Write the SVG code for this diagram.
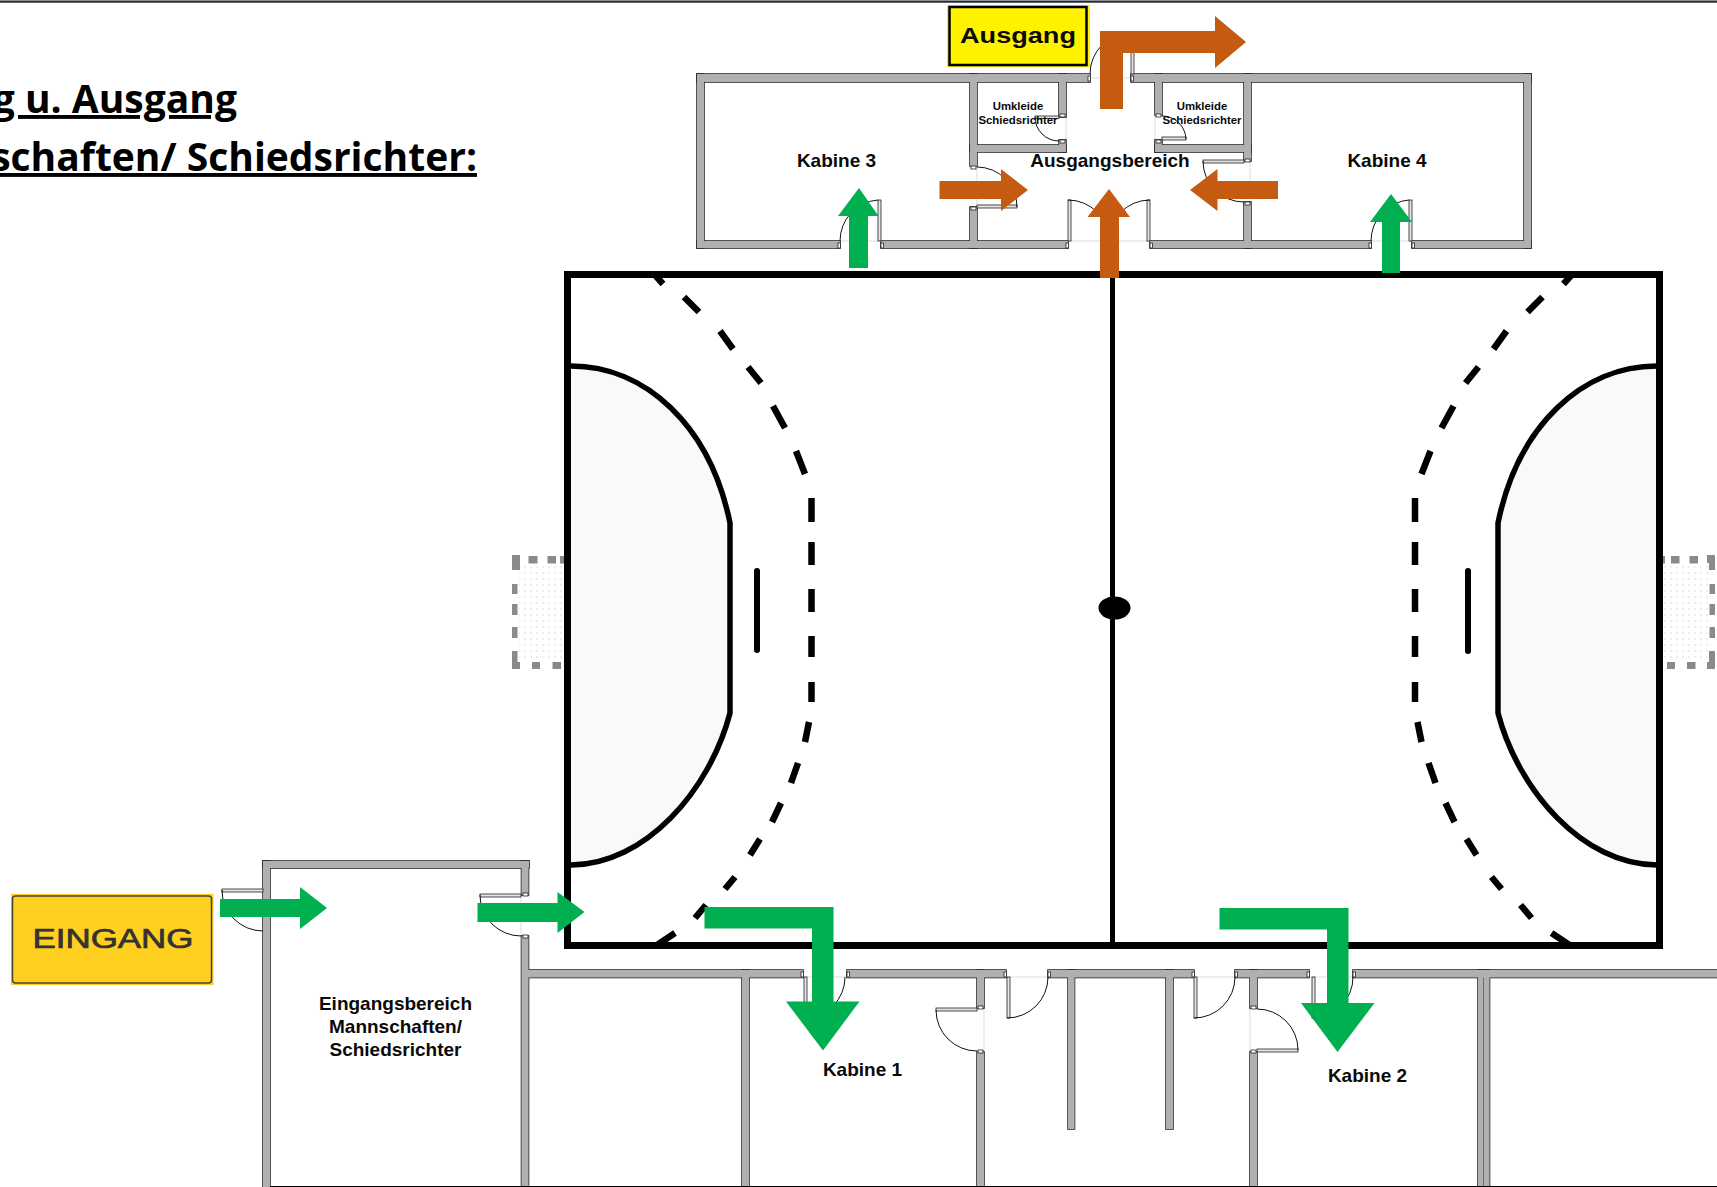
<svg xmlns="http://www.w3.org/2000/svg" xmlns:xlink="http://www.w3.org/1999/xlink" width="1717" height="1187" viewBox="0 0 1717 1187">
<style>
text{font-family:"Liberation Sans",Arial,sans-serif;font-weight:700;fill:#0a0a0a;text-anchor:middle}
.lbl{font-size:19px}
.sm{font-size:11.4px}
.title{font-family:"Open Sans","Noto Sans",sans-serif;font-size:39px;fill:#000;text-anchor:end}
.gn{fill:#00b050}
.or{fill:#c55a11}
.court{fill:none;stroke:#000;stroke-width:7}
.arc{fill:#f9f9f9;stroke:#000;stroke-width:5.5}
.dash{stroke:#000;stroke-width:6.5;fill:none}
.net{fill:#8a8a8a}
.door{fill:none;stroke:#111;stroke-width:1}
.leaf{fill:#e4e4e4;stroke:#222;stroke-width:.8}
.sill{stroke:#ddd;stroke-width:1}
.jamb{fill:#fff;stroke:#222;stroke-width:.8}
</style>
<defs>
<pattern id="mesh" width="6" height="6" patternUnits="userSpaceOnUse"><rect x="2" y="2" width="2" height="2" fill="#eeeeee"/></pattern>
<g id="walls">
<rect x="697" y="74" width="393" height="8"/><rect x="1131" y="74" width="400" height="8"/>
<rect x="697" y="241" width="143" height="7"/><rect x="881" y="241" width="187" height="7"/><rect x="1150" y="241" width="221" height="7"/><rect x="1412" y="241" width="119" height="7"/>
<rect x="697" y="74" width="7" height="174"/><rect x="1524" y="74" width="7" height="174"/>
<rect x="970" y="74" width="7" height="92"/><rect x="970" y="145" width="96" height="7"/><rect x="1059" y="74" width="7" height="43"/><rect x="1059" y="140" width="7" height="12"/>
<rect x="970" y="207" width="7" height="41"/>
<rect x="1244" y="74" width="7" height="87"/><rect x="1155" y="145" width="96" height="7"/><rect x="1155" y="74" width="7" height="41"/><rect x="1155" y="140" width="7" height="12"/>
<rect x="1244" y="202" width="7" height="46"/>
<rect x="263" y="861" width="7" height="326"/><rect x="263" y="861" width="266" height="7"/><rect x="521.500" y="861" width="7" height="34"/><rect x="521.500" y="936" width="7" height="251"/>
<rect x="528" y="970" width="275" height="7.500"/><rect x="847" y="970" width="159" height="7.500"/><rect x="1048" y="970" width="146" height="7.500"/><rect x="1235" y="970" width="74" height="7.500"/><rect x="1353" y="970" width="364" height="7.500"/>
<rect x="742" y="970" width="7" height="217"/>
<rect x="977" y="970" width="7" height="38"/><rect x="977" y="1052" width="7" height="135"/>
<rect x="1068" y="970" width="6.500" height="159"/><rect x="1166" y="970" width="7" height="159"/>
<rect x="1250" y="970" width="7" height="38"/><rect x="1250" y="1052" width="7" height="135"/>
<rect x="1478" y="970" width="5.500" height="217"/><rect x="1484" y="970" width="5.500" height="217"/>
</g>
</defs>
<rect width="1717" height="1187" fill="#fff"/>
<rect x="0" y="0.500" width="1717" height="2.200" fill="#1f2a33"/>

<g id="title">
<text class="title" x="237" y="113" text-decoration="underline">g u. Ausgang</text>
<text class="title" x="477" y="171" text-decoration="underline">schaften/ Schiedsrichter:</text>
</g>

<g id="court">
<g id="nets">
<rect x="519" y="563" width="45" height="99" fill="url(#mesh)"/><rect x="1664" y="563" width="45" height="99" fill="url(#mesh)"/>
<g class="net">
<rect x="512" y="555" width="8" height="15"/><rect x="528.500" y="556" width="9" height="7.500"/><rect x="547.500" y="556" width="8.500" height="7.500"/><rect x="560" y="556" width="6" height="7.500"/>
<rect x="512" y="584" width="5.500" height="10"/><rect x="512" y="604" width="5.500" height="11"/><rect x="512" y="627" width="5.500" height="11"/><rect x="512" y="651" width="5.500" height="18"/><rect x="512" y="662" width="8" height="7"/>
<rect x="532" y="662" width="8" height="7"/><rect x="552.500" y="662" width="8.500" height="7"/>
<rect x="1660" y="556" width="5" height="7.500"/><rect x="1671" y="556" width="8.500" height="7.500"/><rect x="1689.500" y="556" width="8.500" height="7.500"/><rect x="1707" y="555" width="8" height="8"/><rect x="1709" y="555" width="6" height="15"/>
<rect x="1709.500" y="584" width="5.500" height="10"/><rect x="1709.500" y="604" width="5.500" height="11"/><rect x="1709.500" y="627" width="5.500" height="11"/><rect x="1709" y="651" width="6" height="18"/><rect x="1707" y="662" width="8" height="7"/>
<rect x="1667" y="662" width="8" height="7"/><rect x="1687" y="662" width="8.500" height="7"/>
</g>
</g>
<path class="arc" d="M568,366 H571 C645,366 710,425 730,523 V713 C710,790 645,865 571,865 H568 Z"/>
<path class="arc" d="M1660,366 H1657 C1583,366 1518,425 1498,523 V713 C1518,790 1583,865 1657,865 H1660 Z"/>
<rect class="court" x="567.500" y="274.500" width="1092" height="671"/>
<line x1="1112.500" y1="274" x2="1112.500" y2="946" stroke="#000" stroke-width="5"/>
<ellipse cx="1114.500" cy="608" rx="16" ry="11.500" fill="#000"/>
<g stroke="#000" stroke-width="6" stroke-linecap="round"><line x1="757" y1="571" x2="757" y2="650"/><line x1="1468" y1="571" x2="1468" y2="651"/></g>
<path class="dash" d="M655,275 L663,284 M684,297 L699,312 M720,331 L733,349 M748,367 L761,383 M773,406 L785,428 M796,451 L805,474 M811.500,498 V522 M811.500,542 V565 M811.500,589 V612 M811.500,636 V657 M811.500,682 V702 M809,722 L805,742 M798,763 L791,783 M781,803 L772,822 M760,839 L750,855 M735,877 L725,889 M706,905 L695,918 M675,933 L657,945"/>
<path class="dash" d="M1571.500,275 L1563.500,284 M1542.500,297 L1527.500,312 M1506.500,331 L1493.500,349 M1478.500,367 L1465.500,383 M1453.500,406 L1441.500,428 M1430.500,451 L1421.500,474 M1415,498 V522 M1415,542 V565 M1415,589 V612 M1415,636 V657 M1415,682 V702 M1417.500,722 L1421.500,742 M1428.500,763 L1435.500,783 M1445.500,803 L1454.500,822 M1466.500,839 L1476.500,855 M1491.500,877 L1501.500,889 M1520.500,905 L1531.500,918 M1551.500,933 L1569.500,945"/>
</g>

<g id="floorplan">
<g class="sills">
<line class="sill" x1="1090" y1="78" x2="1131" y2="78"/><line class="sill" x1="840" y1="241" x2="881" y2="241"/><line class="sill" x1="1068" y1="241" x2="1150" y2="241"/><line class="sill" x1="1371" y1="241" x2="1412" y2="241"/>
<line class="sill" x1="977" y1="166" x2="977" y2="207"/><line class="sill" x1="1250" y1="161" x2="1250" y2="202"/><line class="sill" x1="1066" y1="117" x2="1066" y2="140"/><line class="sill" x1="1155" y1="115" x2="1155" y2="140"/>
<line class="sill" x1="521" y1="895" x2="521" y2="936"/><line class="sill" x1="803" y1="977" x2="847" y2="977"/><line class="sill" x1="1006" y1="977" x2="1048" y2="977"/><line class="sill" x1="1194" y1="977" x2="1235" y2="977"/><line class="sill" x1="1309" y1="977" x2="1353" y2="977"/>
<line class="sill" x1="984" y1="1008" x2="984" y2="1052"/><line class="sill" x1="1250" y1="1008" x2="1250" y2="1052"/>
</g>
<use xlink:href="#walls" href="#walls" style="fill:#2a2a2a;stroke:#2a2a2a;stroke-width:1.6"/>
<use xlink:href="#walls" href="#walls" style="fill:#b0b0b0"/>
<line x1="270" y1="1186.500" x2="1717" y2="1186.500" stroke="#000" stroke-width="1"/>
<g id="doors">
<rect class="leaf" x="878" y="200" width="3" height="41"/><rect class="leaf" x="1409" y="200" width="3" height="41"/><rect class="leaf" x="1068" y="200" width="3" height="41"/><rect class="leaf" x="1147" y="200" width="3" height="41"/><rect class="leaf" x="1131" y="33" width="3" height="41"/>
<rect class="leaf" x="1035" y="116" width="24" height="2.500"/><rect class="leaf" x="1162" y="137" width="24" height="3"/><rect class="leaf" x="977" y="205" width="40" height="3"/><rect class="leaf" x="1203" y="160" width="41" height="3"/>
<rect class="leaf" x="222" y="889" width="41" height="3"/><rect class="leaf" x="480" y="894" width="41" height="3"/>
<rect class="leaf" x="804" y="977" width="3" height="41"/><rect class="leaf" x="1007" y="977" width="3" height="41"/><rect class="leaf" x="1194" y="977" width="3" height="41"/><rect class="leaf" x="1312" y="977" width="3" height="41"/>
<rect class="leaf" x="936" y="1008" width="41" height="3"/><rect class="leaf" x="1257" y="1049" width="41" height="3"/>
<path class="door" d="M878,200 A41,41 0 0 0 840,241 M1409,200 A41,41 0 0 0 1371,241 M1068,200 A41,41 0 0 1 1109,241 M1150,200 A41,41 0 0 0 1109,241 M1131,33 A41,41 0 0 0 1090,74 M1035,117 A24,24 0 0 0 1059,141 M1186,139 A24,24 0 0 0 1162,116 M1017,207 A40,40 0 0 0 977,167 M1203,161 A41,41 0 0 0 1244,202 M222,890 A41,41 0 0 0 263,931 M480,895 A41,41 0 0 0 521,936 M804,1018 A41,41 0 0 0 845,977 M1007,1018 A41,41 0 0 0 1048,977 M1194,1018 A41,41 0 0 0 1235,977 M1312,1018 A41,41 0 0 0 1353,977 M936,1010 A41,41 0 0 0 977,1051 M1298,1050 A41,41 0 0 0 1257,1009"/>
<g class="jamb">
<rect x="838" y="243" width="2.500" height="5"/><rect x="881" y="243" width="2.500" height="5"/><rect x="1066" y="243" width="2.500" height="5"/><rect x="1150" y="243" width="2.500" height="5"/><rect x="1369" y="243" width="2.500" height="5"/><rect x="1412" y="243" width="2.500" height="5"/><rect x="1088" y="76" width="2.500" height="5"/><rect x="1131" y="76" width="2.500" height="5"/>
<rect x="1060" y="114" width="5" height="3"/><rect x="1060" y="140" width="5" height="3"/><rect x="1156" y="114" width="5" height="3"/><rect x="1156" y="140" width="5" height="3"/><rect x="971" y="166" width="5" height="3"/><rect x="971" y="207" width="5" height="3"/><rect x="1245" y="159" width="5" height="3"/><rect x="1245" y="202" width="5" height="3"/>
<rect x="523" y="893" width="5" height="3"/><rect x="523" y="935" width="5" height="3"/><rect x="801" y="972" width="2.500" height="5"/><rect x="847" y="972" width="2.500" height="5"/><rect x="1004" y="972" width="2.500" height="5"/><rect x="1048" y="972" width="2.500" height="5"/><rect x="1192" y="972" width="2.500" height="5"/><rect x="1235" y="972" width="2.500" height="5"/><rect x="1307" y="972" width="2.500" height="5"/><rect x="1353" y="972" width="2.500" height="5"/>
<rect x="978" y="1006" width="5" height="3"/><rect x="978" y="1050" width="5" height="3"/><rect x="1251" y="1006" width="5" height="3"/><rect x="1251" y="1050" width="5" height="3"/>
</g>
</g>
</g>

<g id="sign-ausgang">
<rect x="947" y="5" width="143" height="62" fill="#fff200"/>
<rect x="949.500" y="7" width="137" height="58" fill="#fff200" stroke="#000" stroke-width="2.500"/>
<text x="1018" y="43" font-size="22" textLength="116" lengthAdjust="spacingAndGlyphs">Ausgang</text>
</g>
<g id="sign-eingang">
<rect x="11" y="894" width="202.500" height="91" fill="#ffcc22"/>
<rect x="12.500" y="896" width="199" height="87" rx="3" fill="#ffd020" stroke="#4a4636" stroke-width="1.500"/>
<text x="113" y="948" font-size="27" style="font-weight:400;fill:#333;stroke:#333;stroke-width:.7" textLength="161" lengthAdjust="spacingAndGlyphs">EINGANG</text>
</g>

<g id="labels">
<text class="lbl" x="836.500" y="166.500">Kabine 3</text>
<text class="lbl" x="1110" y="166.500">Ausgangsbereich</text>
<text class="lbl" x="1387" y="166.500">Kabine 4</text>
<text class="sm" x="1018" y="110">Umkleide</text>
<text class="sm" x="1018" y="124">Schiedsrichter</text>
<text class="sm" x="1202" y="110">Umkleide</text>
<text class="sm" x="1202" y="124">Schiedsrichter</text>
<text class="lbl" x="395.500" y="1010">Eingangsbereich</text>
<text class="lbl" x="395.500" y="1033">Mannschaften/</text>
<text class="lbl" x="395.500" y="1056">Schiedsrichter</text>
<text class="lbl" x="862.500" y="1076">Kabine 1</text>
<text class="lbl" x="1367.500" y="1081.500">Kabine 2</text>
</g>

<g id="connectors">
<polygon class="or" points="1100,109 1100,31 1215,31 1215,16 1246,42 1215,68 1215,53 1123,53 1123,109"/>
<polygon class="or" points="939.500,181 1001,181 1001,169 1028,190 1001,211 1001,199 939.500,199"/>
<polygon class="or" points="1278,181 1217.500,181 1217.500,169 1190,190 1217.500,211 1217.500,199 1278,199"/>
<polygon class="or" points="1100,278 1100,217 1087.500,217 1109,189 1130,217 1119,217 1119,278"/>
<polygon class="gn" points="849,268 849,216 838,216 859,188 878.500,216 868,216 868,268"/>
<polygon class="gn" points="1382,273 1382,222 1370,222 1391,194 1412,222 1400,222 1400,273"/>
<polygon class="gn" points="220,899 300,899 300,887 327,908 300,929 300,917 220,917"/>
<polygon class="gn" points="477.500,903 557.500,903 557.500,892 584.500,912 557.500,933 557.500,922 477.500,922"/>
<polygon class="gn" points="704.500,907 833.500,907 833.500,1001.500 859.500,1001.500 823,1050.500 786,1001.500 812,1001.500 812,928.500 704.500,928.500"/>
<polygon class="gn" points="1219.500,908 1348.500,908 1348.500,1003 1374.500,1003 1337.500,1052 1301,1003 1327,1003 1327,929.500 1219.500,929.500"/>
</g>
</svg>
